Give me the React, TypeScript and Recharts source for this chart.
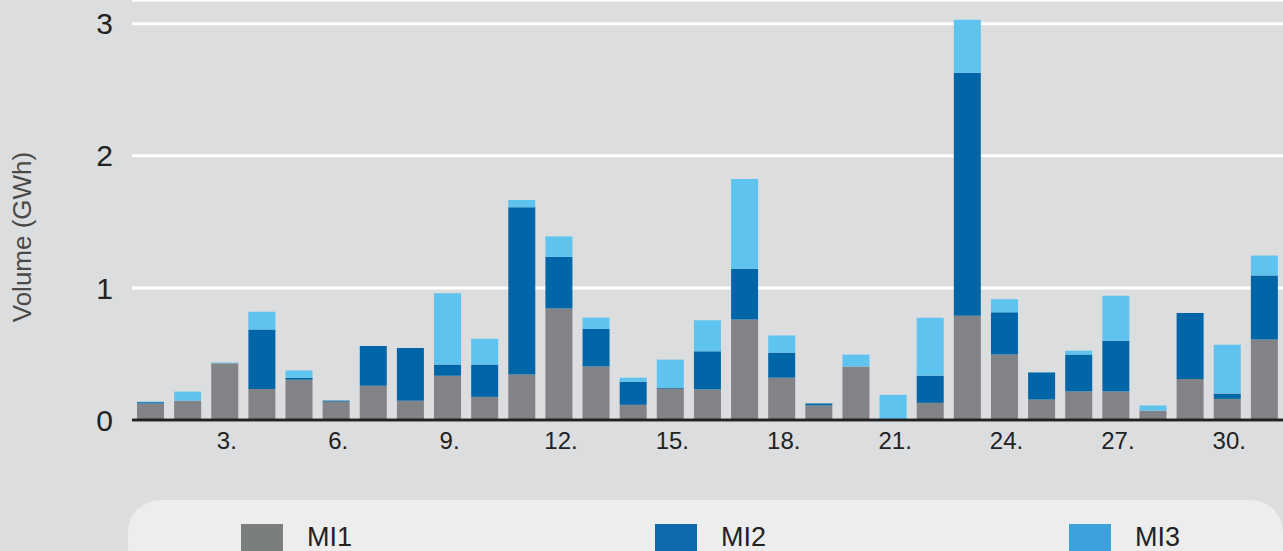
import React from 'react';
import { BarChart, Bar, XAxis, YAxis, CartesianGrid } from 'recharts';

const days = [
  '1.', '2.', '3.', '4.', '5.', '6.', '7.', '8.', '9.', '10.',
  '11.', '12.', '13.', '14.', '15.', '16.', '17.', '18.', '19.', '20.',
  '21.', '22.', '23.', '24.', '25.', '26.', '27.', '28.', '29.', '30.', '31.',
];

const mi1 = [
  0.125, 0.145, 0.43, 0.235, 0.305, 0.139, 0.26, 0.145, 0.335, 0.175,
  0.345, 0.845, 0.405, 0.115, 0.237, 0.23, 0.76, 0.32, 0.11, 0.405,
  0, 0.13, 0.79, 0.495, 0.155, 0.215, 0.215, 0.07, 0.31, 0.16, 0.61,
];
const mi2 = [
  0.01, 0, 0, 0.45, 0.015, 0.008, 0.3, 0.4, 0.085, 0.245,
  1.265, 0.39, 0.285, 0.175, 0.008, 0.29, 0.385, 0.19, 0.015, 0,
  0.01, 0.205, 1.84, 0.32, 0.205, 0.28, 0.385, 0, 0.5, 0.04, 0.485,
];
const mi3 = [
  0.004, 0.07, 0.005, 0.135, 0.055, 0, 0, 0, 0.54, 0.195,
  0.055, 0.155, 0.085, 0.03, 0.212, 0.235, 0.68, 0.13, 0, 0.09,
  0.18, 0.44, 0.4, 0.1, 0, 0.03, 0.34, 0.04, 0, 0.37, 0.15,
];

const xTicks = ['3.', '6.', '9.', '12.', '15.', '18.', '21.', '24.', '27.', '30.'];
const yTicks = [0, 1, 2, 3];

const seriesNames = ['MI1', 'MI2', 'MI3'];
const barColors = ['#828386', '#0066a8', '#5ec3ee'];
const legendColors = ['#7b7e7f', '#0f6aad', '#3ca0da'];

const data = days.map((day, i) => ({
  day,
  MI1: mi1[i],
  MI2: mi2[i],
  MI3: mi3[i],
}));

const font = 'Arial, "Liberation Sans", Helvetica, sans-serif';

const YLabel = () => (
  <text
    x={22}
    y={237}
    transform="rotate(-90 22 237)"
    textAnchor="middle"
    dominantBaseline="central"
    fill="#4a4a4a"
    fontSize={26}
    fontFamily={font}
  >
    Volume (GWh)
  </text>
);

export default function App() {
  return (
    <div
      style={{
        position: 'absolute',
        left: 0,
        top: 0,
        width: 1283,
        height: 551,
        overflow: 'hidden',
        background: '#dcdddf',
        fontFamily: font,
      }}
    >
      <BarChart
        width={1283}
        height={470}
        data={data}
        margin={{ top: 0, right: 0, bottom: 0, left: 0 }}
        barSize={27}
      >
        <CartesianGrid vertical={false} stroke="#ffffff" strokeWidth={3} />
        <XAxis
          dataKey="day"
          ticks={xTicks}
          interval={0}
          height={50}
          tickLine={false}
          tickSize={0}
          tickMargin={12}
          axisLine={{ stroke: '#222222', strokeWidth: 3 }}
          tick={{ fill: '#222222', fontSize: 24, fontFamily: font, dx: 2 }}
        />
        <YAxis
          width={132}
          domain={[0, 3.18]}
          ticks={yTicks}
          axisLine={false}
          tickLine={false}
          tickSize={0}
          tickMargin={19}
          tick={{ fill: '#222222', fontSize: 30, fontFamily: font }}
          label={<YLabel />}
        />
        {seriesNames.map((name, i) => (
          <Bar
            key={name}
            dataKey={name}
            stackId="a"
            fill={barColors[i]}
            isAnimationActive={false}
          />
        ))}
      </BarChart>
      <div
        style={{
          position: 'absolute',
          left: 128,
          top: 500,
          width: 1155,
          height: 80,
          background: '#ededed',
          borderRadius: 32,
        }}
      >
        {seriesNames.map((name, i) => (
          <div
            key={name}
            style={{
              position: 'absolute',
              left: 113 + i * 414,
              top: 24,
              display: 'flex',
              alignItems: 'flex-start',
            }}
          >
            <div style={{ width: 42, height: 42, background: legendColors[i] }} />
            <span
              style={{
                marginLeft: 24,
                fontSize: 27,
                color: '#222222',
                lineHeight: '30px',
                marginTop: -2,
              }}
            >
              {name}
            </span>
          </div>
        ))}
      </div>
    </div>
  );
}
